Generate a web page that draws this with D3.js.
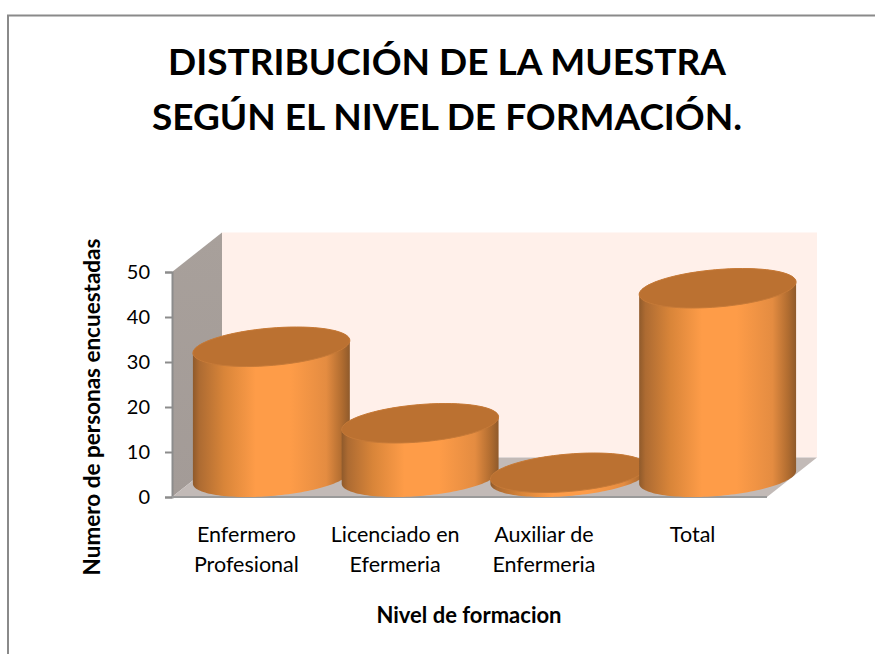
<!DOCTYPE html>
<html>
<head>
<meta charset="UTF-8"/>
<title>Nivel de formacion</title>
<script src="https://d3js.org/d3.v7.min.js"></script>
<style>
body { margin: 0; background: #fff; }
text { font-family: Lato, "Open Sans", sans-serif; fill: #000; }
</style>
</head>
<body>
<div id="chart"></div>
<script>
// data
var categories = ["Enfermero|Profesional", "Licenciado en|Efermeria", "Auxiliar de|Enfermeria", "Total"];
var values = [29, 12, 1, 42];
var yTicks = [0, 10, 20, 30, 40, 50];
var titleLines = ["DISTRIBUCIÓN DE LA MUESTRA", "SEGÚN EL NIVEL DE FORMACIÓN."];
var yTitle = "Numero de personas encuestadas";
var xTitle = "Nivel de formacion";

var svg = d3.select("#chart").append("svg")
	.attr("width", 875)
	.attr("height", 654)
	.style("display", "block");

// frame
svg.append("path")
	.attr("d", "M8,654V15.5H875")
	.attr("fill", "none")
	.attr("stroke", "#8a8a8a")
	.attr("stroke-width", 2);

// title
svg.selectAll(".title").data(titleLines).enter().append("text")
	.attr("class", "title")
	.attr("x", 447)
	.attr("y", function(d, i) { return 75 + i * 55; })
	.attr("text-anchor", "middle")
	.attr("font-size", 37)
	.attr("font-weight", 700)
	.text(function(d) { return d; });

// scales, front plane of the 3d box
var x = d3.scaleBand().domain(categories).range([172, 767]);
var y = d3.scaleLinear().domain([0, 50]).range([497, 272]);

// depth of the box
var depthX = 50, depthY = -39.5;

// gradients
var defs = svg.append("defs");
var bodyGrad = defs.append("linearGradient").attr("id", "body");
[[0, "#8f5a2b"], [0.04, "#ad6b32"], [0.2, "#d98539"], [0.4, "#fe9c48"], [0.62, "#fe9c48"],
 [0.85, "#e48c41"], [0.95, "#b06c30"], [1, "#8f5a2b"]].forEach(function(s) {
	bodyGrad.append("stop").attr("offset", s[0]).attr("stop-color", s[1]);
});
var wallGrad = defs.append("linearGradient").attr("id", "wall")
	.attr("x1", 0).attr("x2", 0).attr("y1", 0).attr("y2", 1);
wallGrad.append("stop").attr("offset", 0).attr("stop-color", "#a8a09b");
wallGrad.append("stop").attr("offset", 1).attr("stop-color", "#a39b97");

// back wall, side wall, floor
var x0 = x.range()[0], x1 = x.range()[1], y0 = y(0), yTop = y(50);
svg.append("polygon")
	.attr("points", [[x0 + depthX, yTop + depthY], [x1 + depthX, yTop + depthY], [x1 + depthX, y0 + depthY], [x0 + depthX, y0 + depthY]].join(" "))
	.attr("fill", "#fff0ea");
svg.append("polygon")
	.attr("points", [[x0, yTop], [x0 + depthX, yTop + depthY], [x0 + depthX, y0 + depthY], [x0, y0]].join(" "))
	.attr("fill", "url(#wall)");
svg.append("polygon")
	.attr("points", [[x0, y0], [x0 + depthX, y0 + depthY], [x1 + depthX, y0 + depthY], [x1, y0]].join(" "))
	.attr("fill", "#c2bab7");

// axis
var yAxis = svg.append("g")
	.attr("transform", "translate(" + x0 + ",0)")
	.call(d3.axisLeft(y).tickValues(yTicks).tickSize(7).tickPadding(15));
yAxis.selectAll("line").attr("stroke", "#8c8c8c").attr("stroke-width", 2);
yAxis.select(".domain").attr("stroke", "#8c8c8c").attr("stroke-width", 2);
yAxis.selectAll("text").attr("font-size", 20);

svg.append("line")
	.attr("x1", x0).attr("x2", x1)
	.attr("y1", y0).attr("y2", y0)
	.attr("stroke", "#9a9a9a")
	.attr("stroke-width", 2);

// ellipse of a cylinder cross section, as seen in the oblique view
function point(cx, cy, t) {
	var a = x.bandwidth() / 2;
	return [cx + a * Math.cos(t) + depthX / 2 * Math.sin(t), cy + depthY / 2 * Math.sin(t)];
}
function ring(cx, cy, from, to) {
	var pts = [];
	for (var i = 0; i <= 72; i++) {
		pts.push(point(cx, cy, from + (to - from) * i / 72));
	}
	return pts;
}

// cylinders, left to right so that later ones cover earlier ones
var edge = Math.atan2(depthX / 2, x.bandwidth() / 2);
var line = d3.line();

categories.forEach(function(c, i) {
	var cx = x(c) + x.bandwidth() / 2 + depthX / 2;
	var baseY = y(0) + depthY / 2;
	var topY = y(values[i]) + depthY / 2;

	// right silhouette is at t = edge, left one at t = edge + PI
	var lower = ring(cx, baseY, edge - Math.PI, edge);
	var upper = ring(cx, topY, edge, edge + Math.PI);
	svg.append("path")
		.attr("d", line(lower.concat(upper)) + "Z")
		.attr("fill", "url(#body)");
	svg.append("path")
		.attr("d", line(ring(cx, topY, 0, 2 * Math.PI)) + "Z")
		.attr("fill", "#bb7131")
		.attr("stroke", "#c67a38")
		.attr("stroke-width", 1);
});

// category labels
var xAxis = svg.append("g")
	.attr("transform", "translate(0," + y0 + ")")
	.call(d3.axisBottom(x).tickSize(0));
xAxis.select(".domain").remove();
xAxis.selectAll("text").each(function(d) {
	var t = d3.select(this).text("").attr("font-size", 21.5).attr("y", 0).attr("dy", 0);
	d.split("|").forEach(function(s, i) {
		t.append("tspan").attr("x", 0).attr("y", 45 + i * 30).text(s);
	});
});

// axis titles
svg.append("text")
	.attr("x", 469)
	.attr("y", 623)
	.attr("text-anchor", "middle")
	.attr("font-size", 22)
	.attr("font-weight", 700)
	.text(xTitle);
svg.append("text")
	.attr("transform", "translate(100,407) rotate(-90)")
	.attr("text-anchor", "middle")
	.attr("font-size", 22.5)
	.attr("font-weight", 700)
	.text(yTitle);
</script>
</body>
</html>
